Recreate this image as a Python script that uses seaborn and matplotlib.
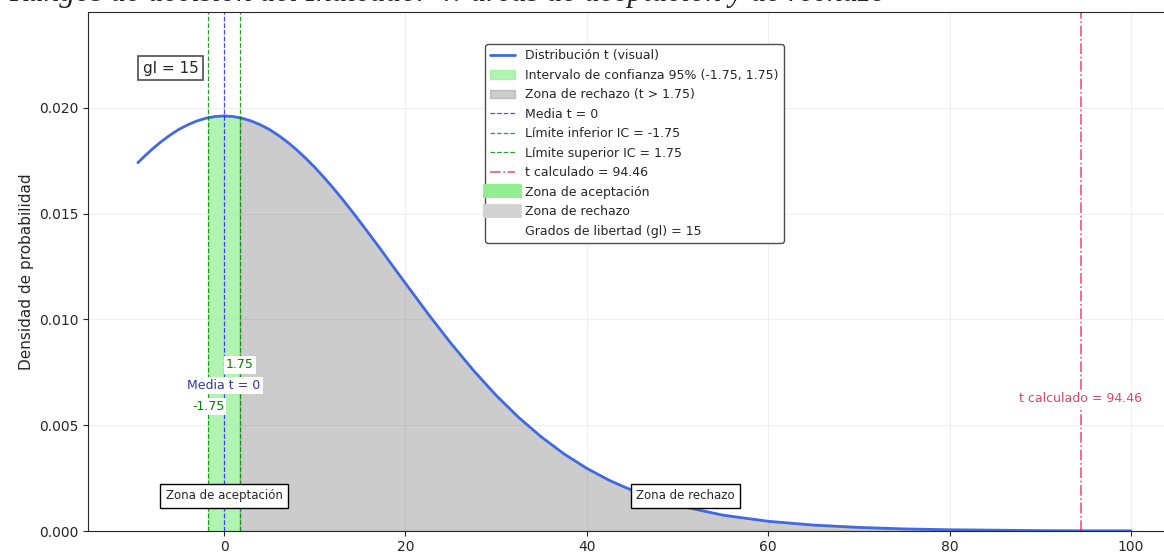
#!/usr/bin/env python3
"""
Rangos de decisión del Indicador 4: áreas de aceptación y de rechazo
"""

import numpy as np
import pandas as pd
import matplotlib
matplotlib.use('Agg')
import matplotlib.pyplot as plt
import seaborn as sns
from matplotlib.lines import Line2D

# Datos (curva de densidad)
t_vals = [-9.5, -9, -8, -7, -6, -5, -4, -3, -2, -1, 0, 1, 2, 3, 4, 5, 6, 7, 8,
          9, 10, 11, 12, 13, 14, 15, 16, 17, 18, 19, 20, 22.5, 25, 27.5, 30,
          32.5, 35, 37.5, 40, 42.5, 45, 47.5, 50, 55, 60, 65, 70, 75, 80, 85,
          90, 95, 100]
densidad = [0.01741, 0.01762, 0.01802, 0.01838, 0.01870, 0.01898, 0.01920,
            0.01938, 0.01951, 0.01959, 0.01962, 0.01959, 0.01951, 0.01938,
            0.01920, 0.01898, 0.01870, 0.01838, 0.01802, 0.01762, 0.01719,
            0.01672, 0.01623, 0.01571, 0.01517, 0.01461, 0.01404, 0.01347,
            0.01288, 0.01229, 0.01171, 0.01026, 0.00888, 0.00759, 0.00641,
            0.00536, 0.00444, 0.00364, 0.00296, 0.00239, 0.00192, 0.00153,
            0.00121, 0.00075, 0.00046, 0.00028, 0.00017, 0.00010, 0.00006,
            0.00004, 0.00002, 0.00001, 0.00001]

media = 0
lim_inf = -1.75
lim_sup = 1.75
t_calc = 94.46
gl = 15

df = pd.DataFrame({'t': t_vals, 'densidad': densidad})
y_max = max(densidad)

sns.set_style('ticks')
plt.rcParams['font.family'] = ['DejaVu Sans']

fig = plt.figure(figsize=(11.64, 5.52), dpi=100)
ax = fig.add_axes([0.0756, 0.038, 0.939, 0.940])

# Curva
sns.lineplot(data=df, x='t', y='densidad', color='royalblue', linewidth=2,
             label='Distribución t (visual)', ax=ax)

# Zonas
x = np.array(t_vals, dtype=float)
y = np.array(densidad, dtype=float)
y_inf = np.interp(lim_inf, x, y)
y_sup = np.interp(lim_sup, x, y)
mask_a = (x > lim_inf) & (x < lim_sup)
xa = np.concatenate([[lim_inf], x[mask_a], [lim_sup]])
ya = np.concatenate([[y_inf], y[mask_a], [y_sup]])
ax.fill_between(xa, ya, color='lightgreen', alpha=0.7,
                label=f'Intervalo de confianza 95% ({lim_inf}, {lim_sup})')
mask_r = x > lim_sup
xr = np.concatenate([[lim_sup], x[mask_r]])
yr = np.concatenate([[y_sup], y[mask_r]])
ax.fill_between(xr, yr, color='gray', alpha=0.4,
                label=f'Zona de rechazo (t > {lim_sup})')

# Líneas verticales
ax.axvline(media, color='blue', linestyle='--', linewidth=0.9, alpha=0.7,
           label=f'Media t = {media}')
ax.axvline(lim_inf, color='green', linestyle='--', linewidth=0.9, alpha=0.8,
           label=f'Límite inferior IC = {lim_inf}')
ax.axvline(lim_sup, color='green', linestyle='--', linewidth=0.9, alpha=0.8,
           label=f'Límite superior IC = {lim_sup}')
ax.axvline(t_calc, color='crimson', linestyle='-.', linewidth=1.2, alpha=0.7,
           label=f't calculado = {t_calc}')

# Etiquetas
ax.text(lim_sup, y_max * 0.40, f'{lim_sup}', color='green', ha='center', va='center',
        fontsize=9, bbox=dict(facecolor='white', edgecolor='none', pad=1.5))
ax.text(media, y_max * 0.35, f'Media t = {media}', color='darkblue', ha='center',
        va='center', fontsize=9, alpha=0.8,
        bbox=dict(facecolor='white', edgecolor='none', pad=1.5))
ax.text(lim_inf, y_max * 0.30, f'{lim_inf}', color='green', ha='center', va='center',
        fontsize=9, bbox=dict(facecolor='white', edgecolor='none', pad=1.5))
ax.text(t_calc, y_max * 0.32, f't calculado = {t_calc}', color='crimson', ha='center',
        va='center', fontsize=9, alpha=0.8,
        bbox=dict(facecolor='white', edgecolor='none', pad=1.5))

ax.text(0, y_max * 0.085, 'Zona de aceptación', ha='center', va='center', fontsize=8.5,
        bbox=dict(facecolor='white', edgecolor='black', pad=4))
ax.text((lim_sup + 100) / 2, y_max * 0.085, 'Zona de rechazo', ha='center', va='center',
        fontsize=8.5, bbox=dict(facecolor='white', edgecolor='black', pad=4))

ax.text(0.05, 0.892, f'gl = {gl}', transform=ax.transAxes, ha='left', va='center',
        fontsize=11, bbox=dict(boxstyle='square,pad=0.3', facecolor='white', edgecolor='0.3',
                               linewidth=1.2))

# Leyenda
handles, labels = ax.get_legend_handles_labels()
handles += [Line2D([0], [0], color='lightgreen', linewidth=10, solid_capstyle='projecting'),
            Line2D([0], [0], color='lightgray', linewidth=10, solid_capstyle='projecting'),
            Line2D([0], [0], color='none')]
labels += ['Zona de aceptación', 'Zona de rechazo', f'Grados de libertad (gl) = {gl}']
ax.legend(handles, labels, loc='upper center', bbox_to_anchor=(0.5, 0.95),
          fontsize=9, labelspacing=0.52, framealpha=1, edgecolor='0.3', fancybox=True)

ax.set_xlim(-15, 105.5)
ax.set_ylim(0, y_max * 1.25)
ax.set_xlabel('')
ax.set_ylabel('Densidad de probabilidad', fontsize=11)
ax.set_xticks([0, 20, 40, 60, 80, 100])
ax.set_yticks([0, 0.005, 0.010, 0.015, 0.020])
ax.yaxis.set_major_formatter(matplotlib.ticker.FormatStrFormatter('%.3f'))
ax.tick_params(length=3.5, pad=3)
ax.grid(True, alpha=0.3)
for s in ax.spines.values():
    s.set_visible(True)

fig.text(0.008, 0.998, 'Rangos de decisión del Indicador 4: áreas de aceptación y de rechazo',
         fontsize=22.5, fontstyle='italic', family='Liberation Serif', va='baseline')

fig.savefig('out.png', dpi=100)
